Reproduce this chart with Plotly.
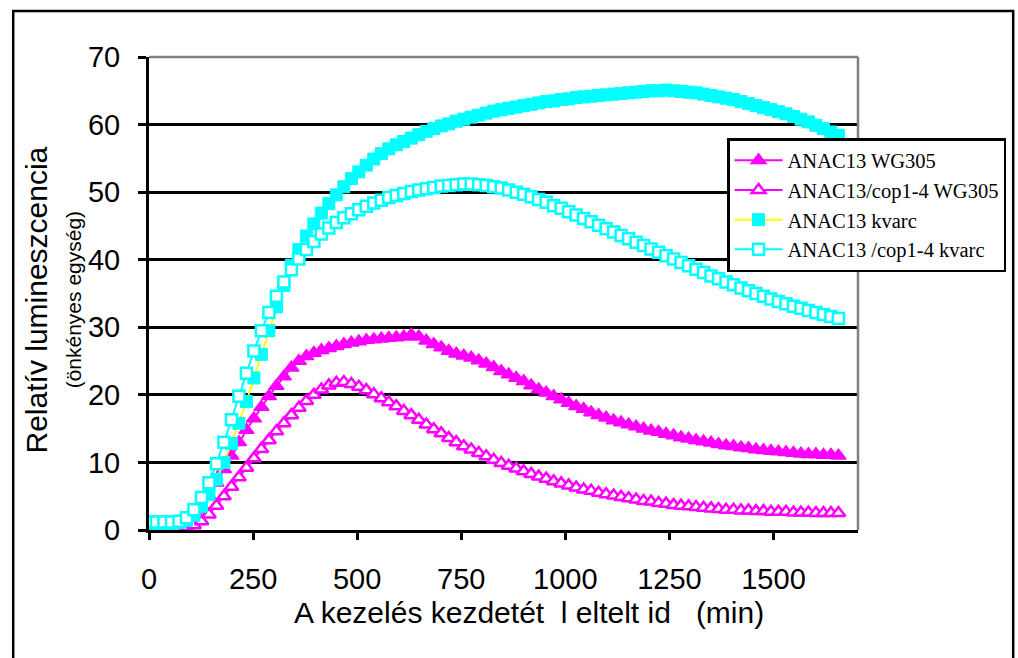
import plotly.graph_objects as go

# Time after the start of treatment (min)
time_min = [
    0, 18, 36, 54, 72, 90, 108, 126, 144, 162,
    180, 198, 216, 234, 252, 270, 288, 306, 324, 342,
    360, 378, 396, 414, 432, 450, 468, 486, 504, 522,
    540, 558, 576, 594, 612, 630, 648, 666, 684, 702,
    720, 738, 756, 774, 792, 810, 828, 846, 864, 882,
    900, 918, 936, 954, 972, 990, 1008, 1026, 1044, 1062,
    1080, 1098, 1116, 1134, 1152, 1170, 1188, 1206, 1224, 1242,
    1260, 1278, 1296, 1314, 1332, 1350, 1368, 1386, 1404, 1422,
    1440, 1458, 1476, 1494, 1512, 1530, 1548, 1566, 1584, 1602,
    1620, 1638, 1656,
]

# ANAC13 WG305
anac13_wg305 = [
    0.5, 0.5, 0.5, 0.5, 0.6, 0.8, 1.3, 3.0, 5.0, 7.0,
    9.0, 11.0, 13.0, 14.8, 16.5, 18.2, 19.8, 21.3, 22.7, 24.0,
    25.0, 25.7, 26.2, 26.6, 26.9, 27.2, 27.5, 27.7, 27.9, 28.1,
    28.2, 28.3, 28.4, 28.5, 28.6, 28.9, 28.6, 28.0, 27.5, 27.0,
    26.5, 26.1, 25.8, 25.5, 25.1, 24.6, 24.1, 23.5, 23.0, 22.5,
    22.0, 21.4, 20.8, 20.3, 19.8, 19.3, 18.8, 18.3, 17.9, 17.4,
    17.0, 16.6, 16.2, 15.9, 15.6, 15.3, 15.0, 14.7, 14.5, 14.2,
    14.0, 13.7, 13.5, 13.3, 13.1, 12.9, 12.7, 12.5, 12.4, 12.2,
    12.1, 11.9, 11.8, 11.7, 11.6, 11.5, 11.4, 11.3, 11.2, 11.2,
    11.1, 11.1, 11.0,
]

# ANAC13/cop1-4 WG305
cop1_wg305 = [
    0.3, 0.3, 0.3, 0.3, 0.3, 0.4, 0.7, 1.3, 2.3, 3.6,
    5.0, 6.4, 7.8, 9.2, 10.6, 12.0, 13.3, 14.6, 15.8, 17.0,
    18.1, 19.1, 20.0, 20.8, 21.4, 21.8, 21.9, 21.6, 21.2, 20.7,
    20.1, 19.5, 18.9, 18.3, 17.6, 17.0, 16.3, 15.6, 14.9, 14.3,
    13.6, 13.0, 12.4, 11.9, 11.4, 10.9, 10.4, 9.9, 9.5, 9.1,
    8.7, 8.3, 7.9, 7.6, 7.2, 6.9, 6.6, 6.3, 6.0, 5.8,
    5.5, 5.3, 5.1, 4.9, 4.7, 4.5, 4.3, 4.2, 4.0, 3.9,
    3.7, 3.6, 3.5, 3.4, 3.3, 3.2, 3.1, 3.0, 3.0, 2.9,
    2.9, 2.8, 2.8, 2.7, 2.7, 2.7, 2.6, 2.6, 2.6, 2.5,
    2.5, 2.5, 2.5,
]

# ANAC13 kvarc
anac13_kvarc = [
    1.0, 1.0, 1.0, 1.0, 1.1, 1.4, 2.2, 3.5, 5.3, 7.5,
    10.0, 12.8, 15.8, 19.0, 22.5, 26.0, 29.5, 33.0, 36.2, 39.2,
    41.5, 43.5, 45.3, 46.9, 48.3, 49.6, 50.8, 52.0, 53.0, 54.0,
    54.9, 55.7, 56.4, 57.0, 57.5, 58.0, 58.5, 59.0, 59.4, 59.8,
    60.1, 60.5, 60.8, 61.1, 61.4, 61.7, 62.0, 62.2, 62.4, 62.6,
    62.8, 63.0, 63.2, 63.4, 63.5, 63.7, 63.8, 64.0, 64.1, 64.2,
    64.3, 64.4, 64.5, 64.6, 64.7, 64.8, 64.9, 65.0, 65.0, 65.1,
    65.0, 64.9, 64.8, 64.7, 64.5, 64.3, 64.1, 63.9, 63.7, 63.4,
    63.1, 62.8, 62.5, 62.2, 61.9, 61.6, 61.2, 60.8, 60.4, 59.9,
    59.4, 58.9, 58.4,
]

# ANAC13 /cop1-4 kvarc
cop1_kvarc = [
    1.2, 1.2, 1.2, 1.2, 1.3, 1.8, 3.0, 4.8, 7.0, 9.8,
    13.0, 16.3, 19.8, 23.2, 26.5, 29.5, 32.2, 34.6, 36.7, 38.5,
    40.1, 41.5, 42.7, 43.8, 44.7, 45.5, 46.2, 46.8, 47.4, 47.9,
    48.4, 48.8, 49.2, 49.5, 49.8, 50.1, 50.3, 50.5, 50.7, 50.9,
    51.0, 51.1, 51.2, 51.2, 51.1, 51.0, 50.8, 50.6, 50.3, 50.0,
    49.7, 49.3, 48.9, 48.5, 48.0, 47.6, 47.1, 46.6, 46.1, 45.6,
    45.1, 44.6, 44.1, 43.6, 43.1, 42.6, 42.1, 41.6, 41.1, 40.6,
    40.1, 39.6, 39.1, 38.6, 38.1, 37.6, 37.2, 36.7, 36.3, 35.8,
    35.4, 35.0, 34.6, 34.2, 33.8, 33.5, 33.1, 32.8, 32.5, 32.2,
    31.9, 31.6, 31.3,
]

series_names = [
    "ANAC13 WG305",
    "ANAC13/cop1-4 WG305",
    "ANAC13 kvarc",
    "ANAC13 /cop1-4 kvarc",
]

x_ticks = [0, 250, 500, 750, 1000, 1250, 1500]
y_ticks = [0, 10, 20, 30, 40, 50, 60, 70]

x_title = "A kezelés kezdetét\u00a0\u00a0l eltelt id\u00a0\u00a0\u00a0(min)"
y_title = "Relatív lumineszcencia"
y_subtitle = "(önkényes egység)"

MAGENTA = "#FF00FF"
CYAN = "#00FFFF"
YELLOW = "#FFFF00"
SANS = "Liberation Sans, Arial, sans-serif"
SERIF = "Liberation Serif, Times New Roman, serif"

# Figure geometry (pixels)
W, H = 1018, 658
L, R, T, B = 149, 880, 57, 530


def px(x):
    return (x - L) / (R - L)


def py(y):
    return (B - y) / (B - T)


fig = go.Figure()

fig.add_trace(go.Scatter(
    x=time_min, y=anac13_wg305, name=series_names[0], mode="lines+markers",
    line=dict(color=MAGENTA, width=2),
    marker=dict(symbol="triangle-up", size=13, color=MAGENTA,
                line=dict(color=MAGENTA, width=1.5)),
))
fig.add_trace(go.Scatter(
    x=time_min, y=cop1_wg305, name=series_names[1], mode="lines+markers",
    line=dict(color=MAGENTA, width=2),
    marker=dict(symbol="triangle-up", size=12, color="white",
                line=dict(color=MAGENTA, width=2.5)),
))
fig.add_trace(go.Scatter(
    x=time_min, y=anac13_kvarc, name=series_names[2], mode="lines+markers",
    line=dict(color=YELLOW, width=2),
    marker=dict(symbol="square", size=12, color=CYAN,
                line=dict(color=CYAN, width=1)),
))
fig.add_trace(go.Scatter(
    x=time_min, y=cop1_kvarc, name=series_names[3], mode="lines+markers",
    line=dict(color=CYAN, width=2),
    marker=dict(symbol="square", size=11, color="white",
                line=dict(color=CYAN, width=2.5)),
))

fig.update_xaxes(
    range=[0, 1703], tickvals=x_ticks, ticktext=[str(v) for v in x_ticks],
    showgrid=False, zeroline=False,
    showline=True, linecolor="black", linewidth=3,
    ticks="outside", ticklen=7, tickwidth=2.5, tickcolor="black",
    ticklabelstandoff=14,
    tickfont=dict(family=SANS, size=29, color="black"),
)
fig.update_yaxes(
    range=[0, 70], tickvals=y_ticks, ticktext=[str(v) for v in y_ticks],
    showgrid=True, gridcolor="black", gridwidth=2.5, zeroline=False,
    showline=True, linecolor="black", linewidth=3,
    ticks="outside", ticklen=8, tickwidth=2.5, tickcolor="black",
    ticklabelstandoff=12,
    tickfont=dict(family=SANS, size=29, color="black"),
)

shapes = [
    # outer chart frame
    dict(type="rect", xref="paper", yref="paper",
         x0=px(9), x1=px(1040), y0=py(680), y1=py(11),
         line=dict(color="black", width=2.5), fillcolor="rgba(0,0,0,0)",
         layer="below"),
    # plot area border (top and right)
    dict(type="line", xref="paper", yref="paper", x0=0, x1=1, y0=1, y1=1,
         line=dict(color="#808080", width=2.5), layer="above"),
    dict(type="line", xref="paper", yref="paper", x0=1, x1=1, y0=0, y1=1,
         line=dict(color="#808080", width=2.5), layer="above"),
]

annotations = [
    dict(text=x_title, xref="paper", yref="paper", x=px(541), y=py(612),
         xanchor="center", yanchor="middle", showarrow=False,
         font=dict(family=SANS, size=30, color="black")),
    dict(text=y_title, xref="paper", yref="paper", x=px(33), y=py(300),
         xanchor="center", yanchor="middle", showarrow=False, textangle=-90,
         font=dict(family=SANS, size=30, color="black")),
    dict(text=y_subtitle, xref="paper", yref="paper", x=px(71), y=py(300),
         xanchor="center", yanchor="middle", showarrow=False, textangle=-90,
         font=dict(family=SANS, size=21, color="black")),
]

fig.update_layout(
    width=W, height=H,
    margin=dict(l=L, r=W - R, t=T, b=H - B),
    paper_bgcolor="white", plot_bgcolor="white",
    shapes=shapes, annotations=annotations,
    showlegend=True,
    legend=dict(
        x=px(745), y=py(138), xanchor="left", yanchor="top",
        bgcolor="white", bordercolor="black", borderwidth=2.5,
        font=dict(family=SERIF, size=20.5, color="black"),
        itemwidth=48, tracegroupgap=0,
    ),
)

fig.write_html("out.html")
